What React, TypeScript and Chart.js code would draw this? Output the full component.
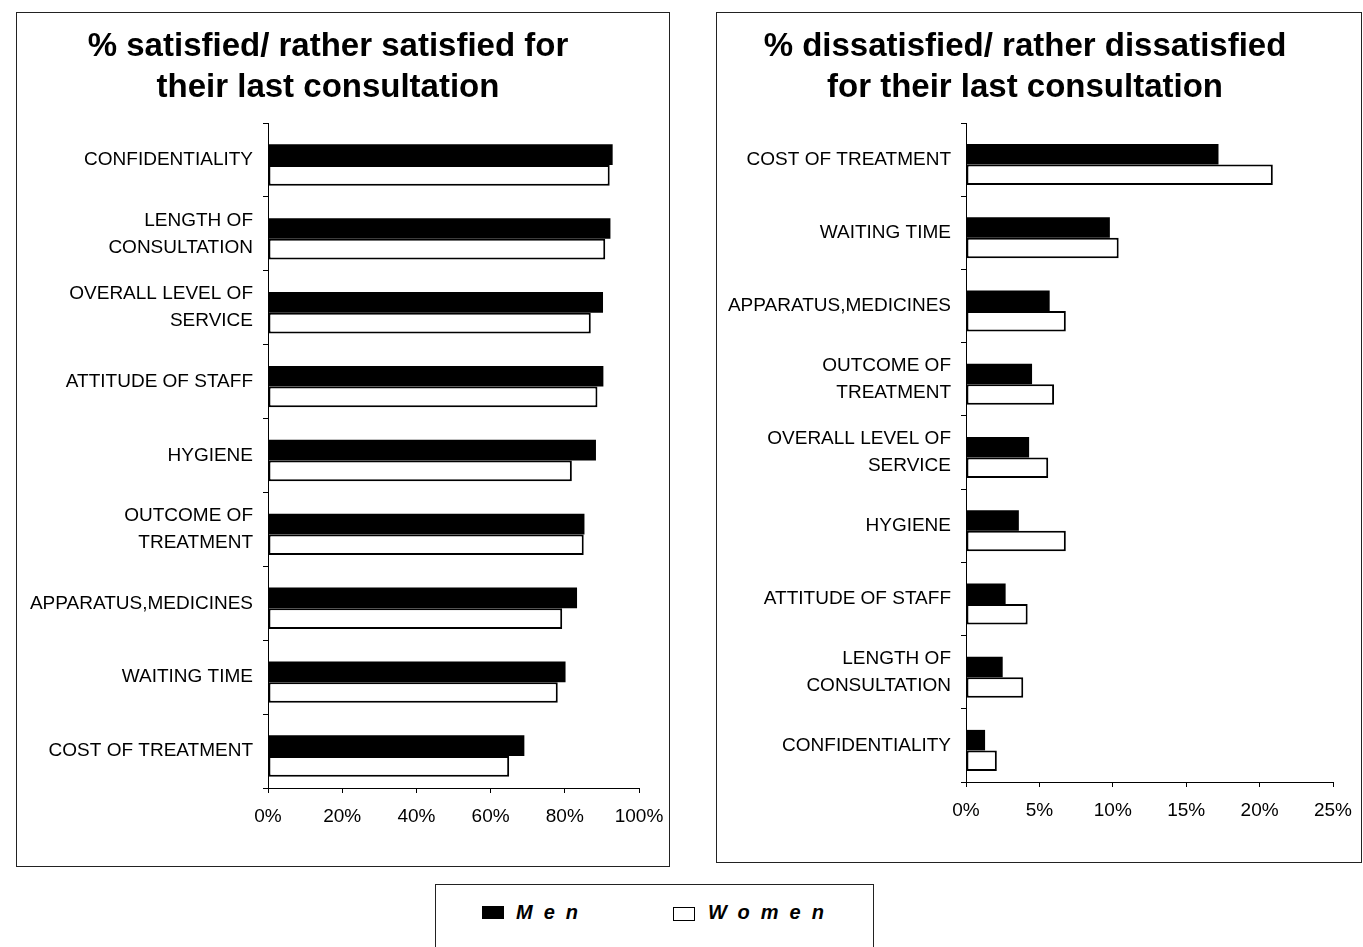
import React, { useEffect, useRef } from "react";
import { Chart, registerables } from "chart.js";

Chart.register(...registerables);

// ---- data ---------------------------------------------------------------

const satisfiedTitle = ["% satisfied/ rather satisfied for", "their last consultation"];
const satisfiedCategories: (string | string[])[] = [
  "CONFIDENTIALITY",
  ["LENGTH OF", "CONSULTATION"],
  ["OVERALL LEVEL OF", "SERVICE"],
  "ATTITUDE OF STAFF",
  "HYGIENE",
  ["OUTCOME OF", "TREATMENT"],
  "APPARATUS,MEDICINES",
  "WAITING TIME",
  "COST OF TREATMENT",
];
const satisfiedMen = [92.9, 92.3, 90.3, 90.4, 88.4, 85.3, 83.3, 80.2, 69.1];
const satisfiedWomen = [92.1, 90.9, 87.0, 88.8, 81.9, 85.1, 79.3, 78.1, 65.0];
const satisfiedTicks = [0, 20, 40, 60, 80, 100];

const dissatisfiedTitle = ["% dissatisfied/ rather dissatisfied", "for their last consultation"];
const dissatisfiedCategories: (string | string[])[] = [
  "COST OF TREATMENT",
  "WAITING TIME",
  "APPARATUS,MEDICINES",
  ["OUTCOME OF", "TREATMENT"],
  ["OVERALL LEVEL OF", "SERVICE"],
  "HYGIENE",
  "ATTITUDE OF STAFF",
  ["LENGTH OF", "CONSULTATION"],
  "CONFIDENTIALITY",
];
const dissatisfiedMen = [17.2, 9.8, 5.7, 4.5, 4.3, 3.6, 2.7, 2.5, 1.3];
const dissatisfiedWomen = [20.9, 10.4, 6.8, 6.0, 5.6, 6.8, 4.2, 3.9, 2.1];
const dissatisfiedTicks = [0, 5, 10, 15, 20, 25];

const seriesNames = ["Men", "Women"];

// ---- drawing ------------------------------------------------------------

const FONT = '"Liberation Sans", Arial, Helvetica, sans-serif';

// The bar pairs sit a little below the centre of each category band.
const BAR_DROP = 5;
const dropBars = {
  id: "dropBars",
  beforeDatasetsDraw(chart: any) {
    chart.ctx.save();
    chart.ctx.translate(0, BAR_DROP);
  },
  afterDatasetsDraw(chart: any) {
    chart.ctx.restore();
  },
};

type PanelProps = {
  title: string[];
  categories: (string | string[])[];
  men: number[];
  women: number[];
  ticks: number[];
  width: number;
  height: number;
  axisWidth: number;
  padRight: number;
  axisHeight: number;
};

function BarPanel(props: PanelProps) {
  const ref = useRef<HTMLCanvasElement | null>(null);

  useEffect(() => {
    if (!ref.current) return;
    const { title, categories, men, women, ticks, axisWidth, padRight, axisHeight } = props;
    const axisGrid = {
      display: true,
      drawOnChartArea: false,
      drawTicks: true,
      tickLength: 5,
      color: "#000",
      lineWidth: 1,
    };
    const chart = new Chart(ref.current, {
      type: "bar",
      data: {
        labels: categories,
        datasets: [
          {
            label: seriesNames[0],
            data: men,
            backgroundColor: "#000",
            borderWidth: 0,
            barPercentage: 1,
            categoryPercentage: 0.56,
          },
          {
            label: seriesNames[1],
            data: women,
            backgroundColor: "#fff",
            borderColor: "#000",
            borderWidth: 2,
            borderSkipped: false,
            barPercentage: 1,
            categoryPercentage: 0.56,
          },
        ],
      },
      plugins: [dropBars],
      options: {
        indexAxis: "y",
        responsive: false,
        maintainAspectRatio: false,
        animation: false,
        layout: { padding: { left: 0, right: padRight, top: 0, bottom: 0 } },
        plugins: {
          legend: { display: false },
          tooltip: { enabled: false },
          title: {
            display: true,
            text: title,
            color: "#000",
            font: { family: FONT, size: 33, weight: "bold", lineHeight: 41 / 33 },
            padding: { top: 13.5, bottom: 14.5 },
          },
        },
        scales: {
          x: {
            type: "linear",
            min: ticks[0],
            max: ticks[ticks.length - 1],
            afterBuildTicks: (scale: any) => {
              scale.ticks = ticks.map((v) => ({ value: v }));
            },
            afterFit: (scale: any) => {
              scale.height = axisHeight;
              scale.paddingLeft = 0;
              scale.paddingRight = 0;
            },
            grid: axisGrid,
            border: { display: true, color: "#000", width: 1 },
            ticks: {
              color: "#000",
              font: { family: FONT, size: 19 },
              padding: 12,
              maxRotation: 0,
              autoSkip: false,
              callback: (v: any) => `${v}%`,
            },
          },
          y: {
            afterFit: (scale: any) => {
              scale.width = axisWidth;
            },
            grid: { ...axisGrid, offset: true },
            border: { display: true, color: "#000", width: 1 },
            ticks: {
              color: "#000",
              font: { family: FONT, size: 19, lineHeight: 1.42 },
              padding: 10,
              autoSkip: false,
            },
          },
        },
      },
    } as any);
    return () => chart.destroy();
  }, []);

  return (
    <canvas
      ref={ref}
      width={props.width}
      height={props.height}
      style={{ display: "block", width: props.width, height: props.height }}
    />
  );
}

const boxStyle: React.CSSProperties = {
  position: "absolute",
  boxSizing: "border-box",
  border: "1px solid #222",
  background: "#fff",
};

const legendText: React.CSSProperties = {
  position: "absolute",
  top: 17,
  fontFamily: FONT,
  fontSize: 20,
  lineHeight: "20px",
  fontWeight: "bold",
  fontStyle: "italic",
  letterSpacing: 11,
  color: "#000",
  whiteSpace: "nowrap",
};

export default function App() {
  return (
    <div
      style={{
        position: "absolute",
        left: 0,
        top: 0,
        width: 1363,
        height: 947,
        background: "#fff",
        overflow: "hidden",
      }}
    >
      <div style={{ ...boxStyle, left: 16, top: 12, width: 654, height: 855 }}>
        <BarPanel
          title={satisfiedTitle}
          categories={satisfiedCategories}
          men={satisfiedMen}
          women={satisfiedWomen}
          ticks={satisfiedTicks}
          width={652}
          height={853}
          axisWidth={251}
          padRight={30}
          axisHeight={78}
        />
      </div>
      <div style={{ ...boxStyle, left: 716, top: 12, width: 646, height: 851 }}>
        <BarPanel
          title={dissatisfiedTitle}
          categories={dissatisfiedCategories}
          men={dissatisfiedMen}
          women={dissatisfiedWomen}
          ticks={dissatisfiedTicks}
          width={644}
          height={849}
          axisWidth={249}
          padRight={28}
          axisHeight={80}
        />
      </div>
      <div style={{ ...boxStyle, left: 435, top: 884, width: 439, height: 70 }}>
        <div
          style={{ position: "absolute", left: 46, top: 21, width: 22, height: 13, background: "#000" }}
        />
        <div style={{ ...legendText, left: 80 }}>{seriesNames[0]}</div>
        <div
          style={{
            position: "absolute",
            left: 237,
            top: 22,
            width: 22,
            height: 14,
            boxSizing: "border-box",
            border: "1.5px solid #000",
            background: "#fff",
          }}
        />
        <div style={{ ...legendText, left: 272 }}>{seriesNames[1]}</div>
      </div>
    </div>
  );
}
